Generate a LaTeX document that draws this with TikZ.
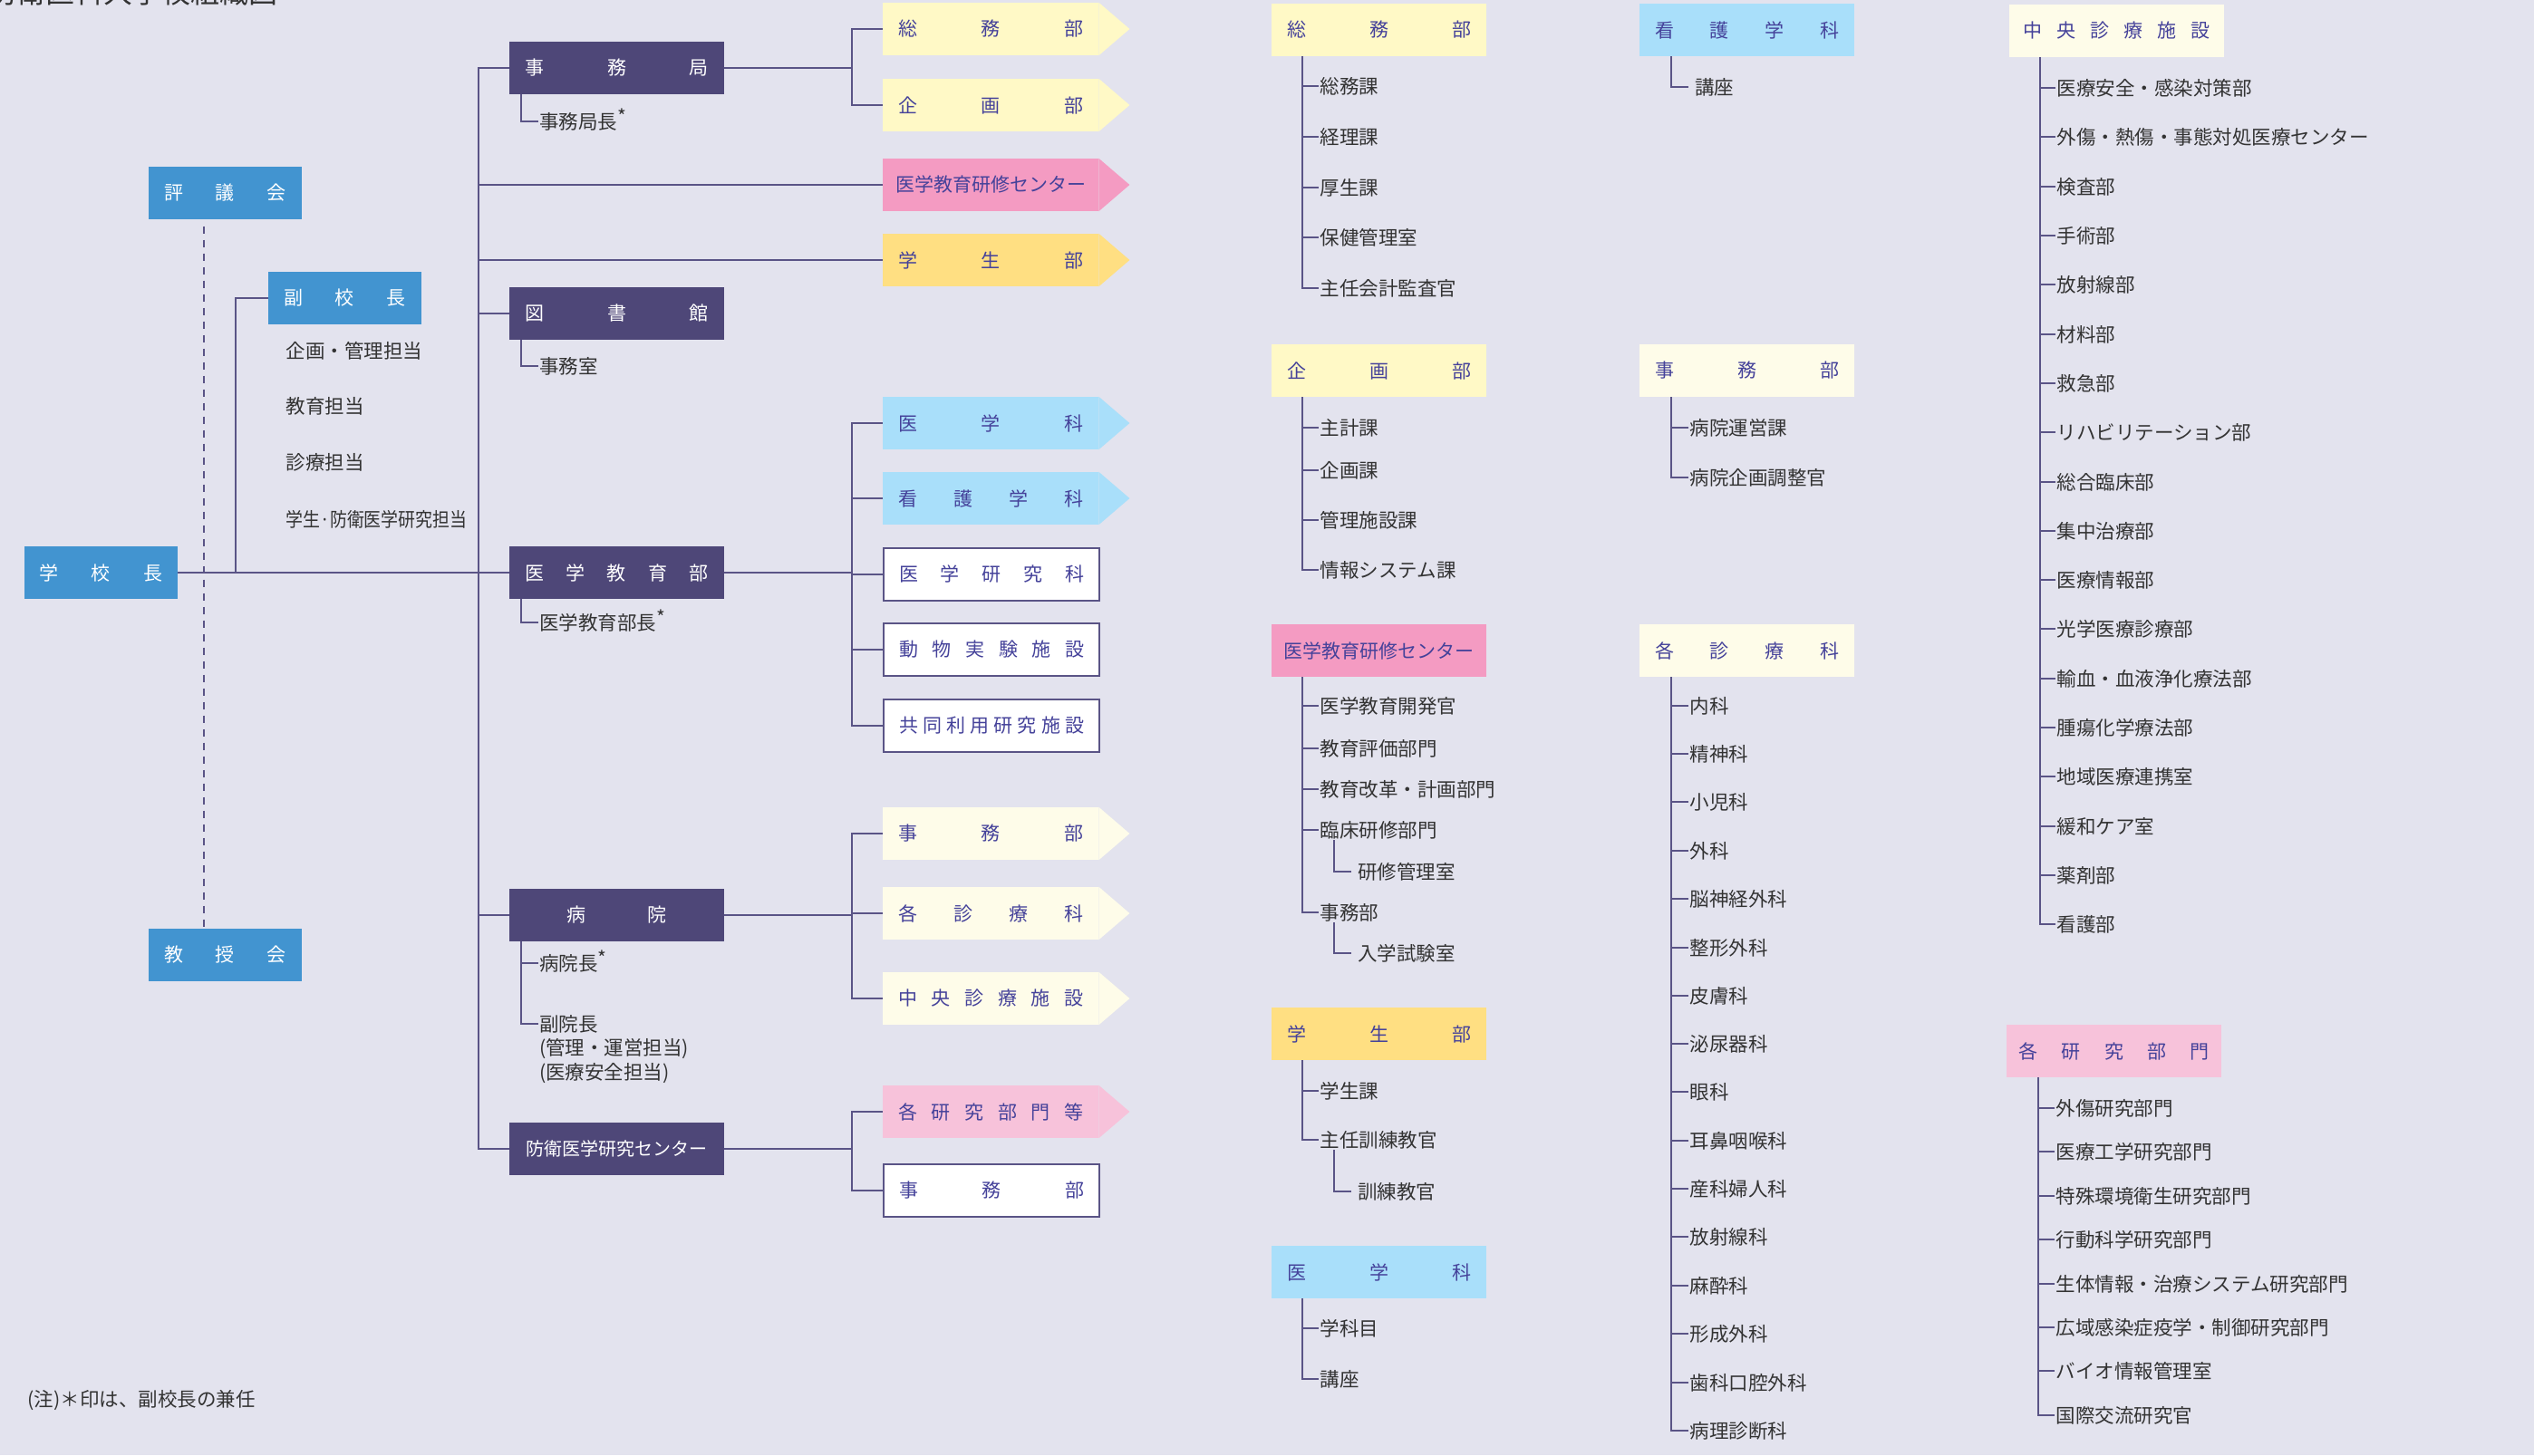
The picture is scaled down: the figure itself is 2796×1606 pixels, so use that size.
\documentclass[tikz,border=0pt]{standalone}
\usepackage{fontspec}
\setmainfont{Noto Sans CJK JP}
\usetikzlibrary{calc}

\definecolor{bgcol}{HTML}{E3E3EE}
\definecolor{schoolblue}{HTML}{4294D0}
\definecolor{darkviolet}{HTML}{4E4778}
\definecolor{linecol}{HTML}{5A5486}
\definecolor{labelcol}{HTML}{45429A}
\definecolor{itemcol}{HTML}{333333}
\definecolor{paleyellow}{HTML}{FFF9C6}
\definecolor{rosepink}{HTML}{F49BC2}
\definecolor{goldyellow}{HTML}{FFDF82}
\definecolor{paleblue}{HTML}{A9DFFA}
\definecolor{cream}{HTML}{FEFCE9}
\definecolor{palepink}{HTML}{F7C2DA}

\newcommand{\kenmark}{\smash{\raisebox{6pt}{\fontsize{21}{21}\selectfont *}}}

\tikzset{
  conn/.style={draw=linecol, line width=2.4pt},
  dashline/.style={draw=linecol, line width=2pt, dash pattern=on 8pt off 7pt},
  headbox/.style={fill=schoolblue, text=white, minimum width=169pt, minimum height=58pt, inner sep=0pt, font=\fontsize{21}{25}\selectfont},
  unitbox/.style={fill=darkviolet, text=white, minimum width=237pt, minimum height=58pt, inner sep=0pt, font=\fontsize{21}{25}\selectfont},
  deptbox/.style={fill=#1, text=labelcol, minimum width=238pt, minimum height=58pt, inner sep=0pt, anchor=west, font=\fontsize{21}{25}\selectfont},
  whitebox/.style={deptbox=white, draw=linecol, line width=2.4pt},
  listhead/.style={fill=#1, text=labelcol, minimum width=237pt, minimum height=58pt, inner sep=0pt, anchor=west, font=\fontsize{21}{25}\selectfont},
  item/.style={anchor=west, inner xsep=1.5pt, inner ysep=1pt, text=itemcol, font=\fontsize{21.5}{26.5}\selectfont},
  subitem/.style={item, inner xsep=7pt},
}

\begin{document}
\begin{tikzpicture}[x=1pt, y=1pt]
  \fill[bgcol] (0,0) rectangle (2796,-1606);
  \useasboundingbox (0,0) rectangle (2796,-1606);

  \node[anchor=base west, inner sep=0pt, text=itemcol, font=\fontsize{32}{36}\selectfont] (title) at (-14,-3) {防衛医科大学校組織図};

  % school head and councils
  \node[headbox] (gakkocho) at (111.5,-632) {\makebox[136pt]{学\hfill 校\hfill 長}};
  \node[headbox] (hyogikai) at (248.5,-212.5) {\makebox[135pt]{評\hfill 議\hfill 会}};
  \node[headbox] (kyojukai) at (248.5,-1054) {\makebox[135pt]{教\hfill 授\hfill 会}};
  \node[headbox] (fukukocho) at (380.5,-329) {\makebox[135pt]{副\hfill 校\hfill 長}};
  \draw[dashline] ([xshift=-23.5, yshift=-8]hyogikai.south) -- ([xshift=-23.5]kyojukai.north);

  \node[item] (fktan1) at (314,-387) {企画・管理担当};
  \node[item] (fktan2) at (314,-448) {教育担当};
  \node[item] (fktan3) at (314,-510) {診療担当};
  \node[item] (fktan4) at (314,-573) {\scalebox{0.88}[1]{学生·防衛医学研究担当}};

  % second level
  \node[unitbox] (jimukyoku) at (680.5,-75) {\makebox[202pt]{事\hfill 務\hfill 局}};
  \node[unitbox] (tosho) at (680.5,-346) {\makebox[202pt]{図\hfill 書\hfill 館}};
  \node[unitbox] (igakukyoiku) at (680.5,-632) {\makebox[202pt]{医\hfill 学\hfill 教\hfill 育\hfill 部}};
  \node[unitbox] (byoin) at (680.5,-1010) {\makebox[110pt]{病\hfill 院}};
  \node[unitbox, font=\fontsize{20}{24}\selectfont] (bougai) at (680.5,-1268) {防衛医学研究センター};

  \node[item] (kyokucho) at (593.5,-134) {事務局長\kenmark};
  \node[item] (jimushitsu) at (593.5,-404) {事務室};
  \node[item] (kyoikubucho) at (593.5,-687) {医学教育部長\kenmark};
  \node[item] (byoincho) at (593.5,-1063) {病院長\kenmark};
  \node[item] (fukuincho) at (593.5,-1130) {副院長};
  \node[item, align=left] (fukuinbiko) at (593.5,-1171) {(管理・運営担当)\\(医療安全担当)};

  % third level
  \node[deptbox=paleyellow] (somubu) at (974,-32) {\makebox[204pt]{総\hfill 務\hfill 部}};
  \node[deptbox=paleyellow] (kikakubu) at (974,-116) {\makebox[204pt]{企\hfill 画\hfill 部}};
  \node[deptbox=rosepink] (kenshu) at (974,-204) {医学教育研修センター};
  \node[deptbox=goldyellow] (gakusei) at (974,-287) {\makebox[204pt]{学\hfill 生\hfill 部}};
  \node[deptbox=paleblue] (igakka) at (974,-467) {\makebox[204pt]{医\hfill 学\hfill 科}};
  \node[deptbox=paleblue] (kangoka) at (974,-550) {\makebox[204pt]{看\hfill 護\hfill 学\hfill 科}};
  \node[whitebox] (kenkyuka) at (974,-634) {\makebox[204pt]{医\hfill 学\hfill 研\hfill 究\hfill 科}};
  \node[whitebox] (dobutsu) at (974,-717) {\makebox[204pt]{動\hfill 物\hfill 実\hfill 験\hfill 施\hfill 設}};
  \node[whitebox] (kyodo) at (974,-801) {\makebox[204pt]{共\hfill 同\hfill 利\hfill 用\hfill 研\hfill 究\hfill 施\hfill 設}};
  \node[deptbox=cream] (byoinjimu) at (974,-920) {\makebox[204pt]{事\hfill 務\hfill 部}};
  \node[deptbox=cream] (shinryoka) at (974,-1008) {\makebox[204pt]{各\hfill 診\hfill 療\hfill 科}};
  \node[deptbox=cream] (chuo) at (974,-1102) {\makebox[204pt]{中\hfill 央\hfill 診\hfill 療\hfill 施\hfill 設}};
  \node[deptbox=palepink] (kenkyubumon) at (974,-1227) {\makebox[204pt]{各\hfill 研\hfill 究\hfill 部\hfill 門\hfill 等}};
  \node[whitebox] (bougaijimu) at (974,-1314) {\makebox[204pt]{事\hfill 務\hfill 部}};

  \fill[paleyellow] (somubu.north east) -- ([xshift=34]somubu.east) -- (somubu.south east) -- cycle;
  \fill[paleyellow] (kikakubu.north east) -- ([xshift=34]kikakubu.east) -- (kikakubu.south east) -- cycle;
  \fill[rosepink] (kenshu.north east) -- ([xshift=34]kenshu.east) -- (kenshu.south east) -- cycle;
  \fill[goldyellow] (gakusei.north east) -- ([xshift=34]gakusei.east) -- (gakusei.south east) -- cycle;
  \fill[paleblue] (igakka.north east) -- ([xshift=34]igakka.east) -- (igakka.south east) -- cycle;
  \fill[paleblue] (kangoka.north east) -- ([xshift=34]kangoka.east) -- (kangoka.south east) -- cycle;
  \fill[cream] (byoinjimu.north east) -- ([xshift=34]byoinjimu.east) -- (byoinjimu.south east) -- cycle;
  \fill[cream] (shinryoka.north east) -- ([xshift=34]shinryoka.east) -- (shinryoka.south east) -- cycle;
  \fill[cream] (chuo.north east) -- ([xshift=34]chuo.east) -- (chuo.south east) -- cycle;
  \fill[palepink] (kenkyubumon.north east) -- ([xshift=34]kenkyubumon.east) -- (kenkyubumon.south east) -- cycle;

  % connectors of the main tree
  \coordinate (fkbr) at (260,-632);
  \coordinate (trunk) at (528,-632);
  \coordinate (jbr) at (940,-75);
  \coordinate (ibr) at (940,-632);
  \coordinate (bbr) at (940,-1010);
  \coordinate (rbr) at (940,-1268);
  \draw[conn] (gakkocho.east) -- (igakukyoiku.west);
  \draw[conn] (fukukocho.west) -| (fkbr);
  \draw[conn] (jimukyoku.west) -| (trunk) (tosho.west) -| (trunk) (kenshu.west) -| (trunk)
    (gakusei.west) -| (trunk) (byoin.west) -| (trunk) (bougai.west) -| (trunk);
  \draw[conn] (jimukyoku.east) -- (jbr) |- (somubu.west) (jbr) |- (kikakubu.west);
  \draw[conn] (igakukyoiku.east) -- (ibr) |- (igakka.west) (ibr) |- (kangoka.west)
    (ibr) |- (kenkyuka.west) (ibr) |- (dobutsu.west) (ibr) |- (kyodo.west);
  \draw[conn] (byoin.east) -- (bbr) |- (byoinjimu.west) (bbr) |- (shinryoka.west) (bbr) |- (chuo.west);
  \draw[conn] (bougai.east) -- (rbr) |- (kenkyubumon.west) (rbr) |- (bougaijimu.west);

  \draw[conn] ([xshift=13]jimukyoku.south west) |- (kyokucho.west);
  \draw[conn] ([xshift=13]tosho.south west) |- (jimushitsu.west);
  \draw[conn] ([xshift=13]igakukyoiku.south west) |- (kyoikubucho.west);
  \draw[conn] ([xshift=13]byoin.south west) |- (byoincho.west) ([xshift=13]byoin.south west) |- (fukuincho.west);

  % column: jimukyoku and education
  \node[listhead=paleyellow] (csomu) at (1403,-33) {\makebox[203pt]{総\hfill 務\hfill 部}};
  \node[item] (somu1) at (1455,-95) {総務課};
  \node[item] (somu2) at (1455,-151) {経理課};
  \node[item] (somu3) at (1455,-207) {厚生課};
  \node[item] (somu4) at (1455,-262) {保健管理室};
  \node[item] (somu5) at (1455,-318) {主任会計監査官};
  \draw[conn] ([xshift=34]csomu.south west) |- (somu1.west) ([xshift=34]csomu.south west) |- (somu2.west)
    ([xshift=34]csomu.south west) |- (somu3.west) ([xshift=34]csomu.south west) |- (somu4.west)
    ([xshift=34]csomu.south west) |- (somu5.west);

  \node[listhead=paleyellow] (ckikaku) at (1403,-409) {\makebox[203pt]{企\hfill 画\hfill 部}};
  \node[item] (kikaku1) at (1455,-472) {主計課};
  \node[item] (kikaku2) at (1455,-519) {企画課};
  \node[item] (kikaku3) at (1455,-574) {管理施設課};
  \node[item] (kikaku4) at (1455,-629) {情報システム課};
  \draw[conn] ([xshift=34]ckikaku.south west) |- (kikaku1.west) ([xshift=34]ckikaku.south west) |- (kikaku2.west)
    ([xshift=34]ckikaku.south west) |- (kikaku3.west) ([xshift=34]ckikaku.south west) |- (kikaku4.west);

  \node[listhead=rosepink] (ckenshu) at (1403,-718) {医学教育研修センター};
  \node[item] (kenshu1) at (1455,-779) {医学教育開発官};
  \node[item] (kenshu2) at (1455,-826) {教育評価部門};
  \node[item] (kenshu3) at (1455,-871) {教育改革・計画部門};
  \node[item] (kenshu4) at (1455,-916) {臨床研修部門};
  \node[subitem] (kenshu4a) at (1491,-962) {研修管理室};
  \node[item] (kenshu5) at (1455,-1007) {事務部};
  \node[subitem] (kenshu5a) at (1491,-1052) {入学試験室};
  \draw[conn] ([xshift=34]ckenshu.south west) |- (kenshu1.west) ([xshift=34]ckenshu.south west) |- (kenshu2.west)
    ([xshift=34]ckenshu.south west) |- (kenshu3.west) ([xshift=34]ckenshu.south west) |- (kenshu4.west)
    ([xshift=34]ckenshu.south west) |- (kenshu5.west);
  \draw[conn] ([xshift=17]kenshu4.south west) |- (kenshu4a.west);
  \draw[conn] ([xshift=17]kenshu5.south west) |- (kenshu5a.west);

  \node[listhead=goldyellow] (cgakusei) at (1403,-1141) {\makebox[203pt]{学\hfill 生\hfill 部}};
  \node[item] (gakusei1) at (1455,-1204) {学生課};
  \node[item] (gakusei2) at (1455,-1258) {主任訓練教官};
  \node[subitem] (gakusei2a) at (1491,-1315) {訓練教官};
  \draw[conn] ([xshift=34]cgakusei.south west) |- (gakusei1.west) ([xshift=34]cgakusei.south west) |- (gakusei2.west);
  \draw[conn] ([xshift=17]gakusei2.south west) |- (gakusei2a.west);

  \node[listhead=paleblue] (cigakka) at (1403,-1404) {\makebox[203pt]{医\hfill 学\hfill 科}};
  \node[item] (igakka1) at (1455,-1466) {学科目};
  \node[item] (igakka2) at (1455,-1522) {講座};
  \draw[conn] ([xshift=34]cigakka.south west) |- (igakka1.west) ([xshift=34]cigakka.south west) |- (igakka2.west);

  % column: nursing and hospital
  \node[listhead=paleblue] (ckango) at (1809,-33) {\makebox[203pt]{看\hfill 護\hfill 学\hfill 科}};
  \node[subitem] (kango1) at (1863,-96) {講座};
  \draw[conn] ([xshift=35]ckango.south west) |- (kango1.west);

  \node[listhead=cream] (cbyoinjimu) at (1809,-409) {\makebox[203pt]{事\hfill 務\hfill 部}};
  \node[item] (bjimu1) at (1863,-472) {病院運営課};
  \node[item] (bjimu2) at (1863,-527) {病院企画調整官};
  \draw[conn] ([xshift=35]cbyoinjimu.south west) |- (bjimu1.west) ([xshift=35]cbyoinjimu.south west) |- (bjimu2.west);

  \node[listhead=cream] (cshinryo) at (1809,-718) {\makebox[203pt]{各\hfill 診\hfill 療\hfill 科}};
  \node[item] (ka1) at (1863,-779) {内科};
  \node[item] (ka2) at (1863,-832) {精神科};
  \node[item] (ka3) at (1863,-885) {小児科};
  \node[item] (ka4) at (1863,-939) {外科};
  \node[item] (ka5) at (1863,-992) {脳神経外科};
  \node[item] (ka6) at (1863,-1046) {整形外科};
  \node[item] (ka7) at (1863,-1099) {皮膚科};
  \node[item] (ka8) at (1863,-1152) {泌尿器科};
  \node[item] (ka9) at (1863,-1205) {眼科};
  \node[item] (ka10) at (1863,-1259) {耳鼻咽喉科};
  \node[item] (ka11) at (1863,-1312) {産科婦人科};
  \node[item] (ka12) at (1863,-1365) {放射線科};
  \node[item] (ka13) at (1863,-1419) {麻酔科};
  \node[item] (ka14) at (1863,-1472) {形成外科};
  \node[item] (ka15) at (1863,-1526) {歯科口腔外科};
  \node[item] (ka16) at (1863,-1579) {病理診断科};
  \draw[conn] ([xshift=35]cshinryo.south west) |- (ka1.west) ([xshift=35]cshinryo.south west) |- (ka2.west)
    ([xshift=35]cshinryo.south west) |- (ka3.west) ([xshift=35]cshinryo.south west) |- (ka4.west)
    ([xshift=35]cshinryo.south west) |- (ka5.west) ([xshift=35]cshinryo.south west) |- (ka6.west)
    ([xshift=35]cshinryo.south west) |- (ka7.west) ([xshift=35]cshinryo.south west) |- (ka8.west)
    ([xshift=35]cshinryo.south west) |- (ka9.west) ([xshift=35]cshinryo.south west) |- (ka10.west)
    ([xshift=35]cshinryo.south west) |- (ka11.west) ([xshift=35]cshinryo.south west) |- (ka12.west)
    ([xshift=35]cshinryo.south west) |- (ka13.west) ([xshift=35]cshinryo.south west) |- (ka14.west)
    ([xshift=35]cshinryo.south west) |- (ka15.west) ([xshift=35]cshinryo.south west) |- (ka16.west);

  % column: central facilities and research
  \node[listhead=cream] (cchuo) at (2217,-34) {\makebox[206pt]{中\hfill 央\hfill 診\hfill 療\hfill 施\hfill 設}};
  \node[item] (bu1) at (2268,-97) {医療安全・感染対策部};
  \node[item] (bu2) at (2268,-151) {外傷・熱傷・事態対処医療センター};
  \node[item] (bu3) at (2268,-206) {検査部};
  \node[item] (bu4) at (2268,-260) {手術部};
  \node[item] (bu5) at (2268,-314) {放射線部};
  \node[item] (bu6) at (2268,-369) {材料部};
  \node[item] (bu7) at (2268,-423) {救急部};
  \node[item] (bu8) at (2268,-477) {リハビリテーション部};
  \node[item] (bu9) at (2268,-532) {総合臨床部};
  \node[item] (bu10) at (2268,-586) {集中治療部};
  \node[item] (bu11) at (2268,-640) {医療情報部};
  \node[item] (bu12) at (2268,-694) {光学医療診療部};
  \node[item] (bu13) at (2268,-749) {輸血・血液浄化療法部};
  \node[item] (bu14) at (2268,-803) {腫瘍化学療法部};
  \node[item] (bu15) at (2268,-857) {地域医療連携室};
  \node[item] (bu16) at (2268,-912) {緩和ケア室};
  \node[item] (bu17) at (2268,-966) {薬剤部};
  \node[item] (bu18) at (2268,-1020) {看護部};
  \draw[conn] ([xshift=34]cchuo.south west) |- (bu1.west) ([xshift=34]cchuo.south west) |- (bu2.west)
    ([xshift=34]cchuo.south west) |- (bu3.west) ([xshift=34]cchuo.south west) |- (bu4.west)
    ([xshift=34]cchuo.south west) |- (bu5.west) ([xshift=34]cchuo.south west) |- (bu6.west)
    ([xshift=34]cchuo.south west) |- (bu7.west) ([xshift=34]cchuo.south west) |- (bu8.west)
    ([xshift=34]cchuo.south west) |- (bu9.west) ([xshift=34]cchuo.south west) |- (bu10.west)
    ([xshift=34]cchuo.south west) |- (bu11.west) ([xshift=34]cchuo.south west) |- (bu12.west)
    ([xshift=34]cchuo.south west) |- (bu13.west) ([xshift=34]cchuo.south west) |- (bu14.west)
    ([xshift=34]cchuo.south west) |- (bu15.west) ([xshift=34]cchuo.south west) |- (bu16.west)
    ([xshift=34]cchuo.south west) |- (bu17.west) ([xshift=34]cchuo.south west) |- (bu18.west);

  \node[listhead=palepink] (cbumon) at (2214,-1160) {\makebox[210pt]{各\hfill 研\hfill 究\hfill 部\hfill 門}};
  \node[item] (bumon1) at (2267,-1223) {外傷研究部門};
  \node[item] (bumon2) at (2267,-1271) {医療工学研究部門};
  \node[item] (bumon3) at (2267,-1320) {特殊環境衛生研究部門};
  \node[item] (bumon4) at (2267,-1368) {行動科学研究部門};
  \node[item] (bumon5) at (2267,-1417) {生体情報・治療システム研究部門};
  \node[item] (bumon6) at (2267,-1465) {広域感染症疫学・制御研究部門};
  \node[item] (bumon7) at (2267,-1513) {バイオ情報管理室};
  \node[item] (bumon8) at (2267,-1562) {国際交流研究官};
  \draw[conn] ([xshift=35]cbumon.south west) |- (bumon1.west) ([xshift=35]cbumon.south west) |- (bumon2.west)
    ([xshift=35]cbumon.south west) |- (bumon3.west) ([xshift=35]cbumon.south west) |- (bumon4.west)
    ([xshift=35]cbumon.south west) |- (bumon5.west) ([xshift=35]cbumon.south west) |- (bumon6.west)
    ([xshift=35]cbumon.south west) |- (bumon7.west) ([xshift=35]cbumon.south west) |- (bumon8.west);

  \node[item] (chuki) at (29,-1546) {(注)＊印は、副校長の兼任};
\end{tikzpicture}
\end{document}
